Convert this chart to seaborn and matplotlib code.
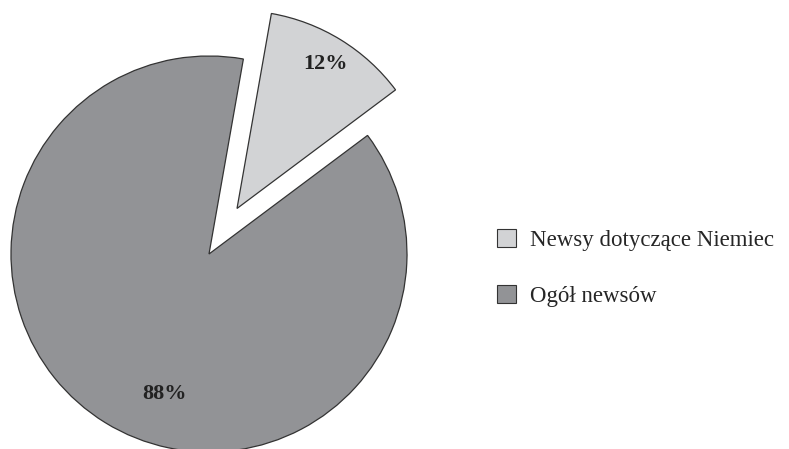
import matplotlib
matplotlib.use("Agg")
import matplotlib.pyplot as plt
import seaborn as sns
import numpy as np

categories = ["Newsy dotyczące Niemiec", "Ogół newsów"]
values = [12, 88]
pct_labels = ["12%", "88%"]
colors = ["#d2d3d5", "#929396"]

sns.set_theme(style="white")
plt.rcParams["font.family"] = ["Liberation Serif", "DejaVu Serif"]

W, H = 789, 449
fig = plt.figure(figsize=(W / 100, H / 100), dpi=100)
ax = fig.add_axes([0, 0, 1, 1])

R = 198.0
cx, cy = 209.0, 449 - 254.0
wedges, _ = ax.pie(values, colors=colors, startangle=80, counterclock=False,
                   explode=[0.27, 0], radius=1,
                   wedgeprops=dict(edgecolor="#333333", linewidth=0.9))

ax.set_xlim(-cx / R, (W - cx) / R)
ax.set_ylim(-cy / R, (H - cy) / R)
ax.set_aspect("auto")
ax.axis("off")

# percentage labels
th1 = np.deg2rad(80 - values[0] / 100 * 360 / 2)
ax.text(1.125 * np.cos(th1), 1.125 * np.sin(th1), pct_labels[0],
        ha="center", va="center", fontsize=16, fontweight="bold", color="#222222")
th2 = np.deg2rad(252.5)
ax.text(0.742 * np.cos(th2), 0.742 * np.sin(th2), pct_labels[1],
        ha="center", va="center", fontsize=16, fontweight="bold", color="#222222")

leg = ax.legend(wedges, categories, loc="center left",
                bbox_to_anchor=(497 / W, 1 - 268 / H), bbox_transform=fig.transFigure,
                frameon=False, fontsize=16.5, handlelength=0.82, handleheight=0.82,
                handletextpad=0.6, labelspacing=1.5, borderpad=0, borderaxespad=0)
for h in leg.legend_handles:
    h.set_edgecolor("#333333")
    h.set_linewidth(0.8)

fig.savefig("out.png", dpi=100)
